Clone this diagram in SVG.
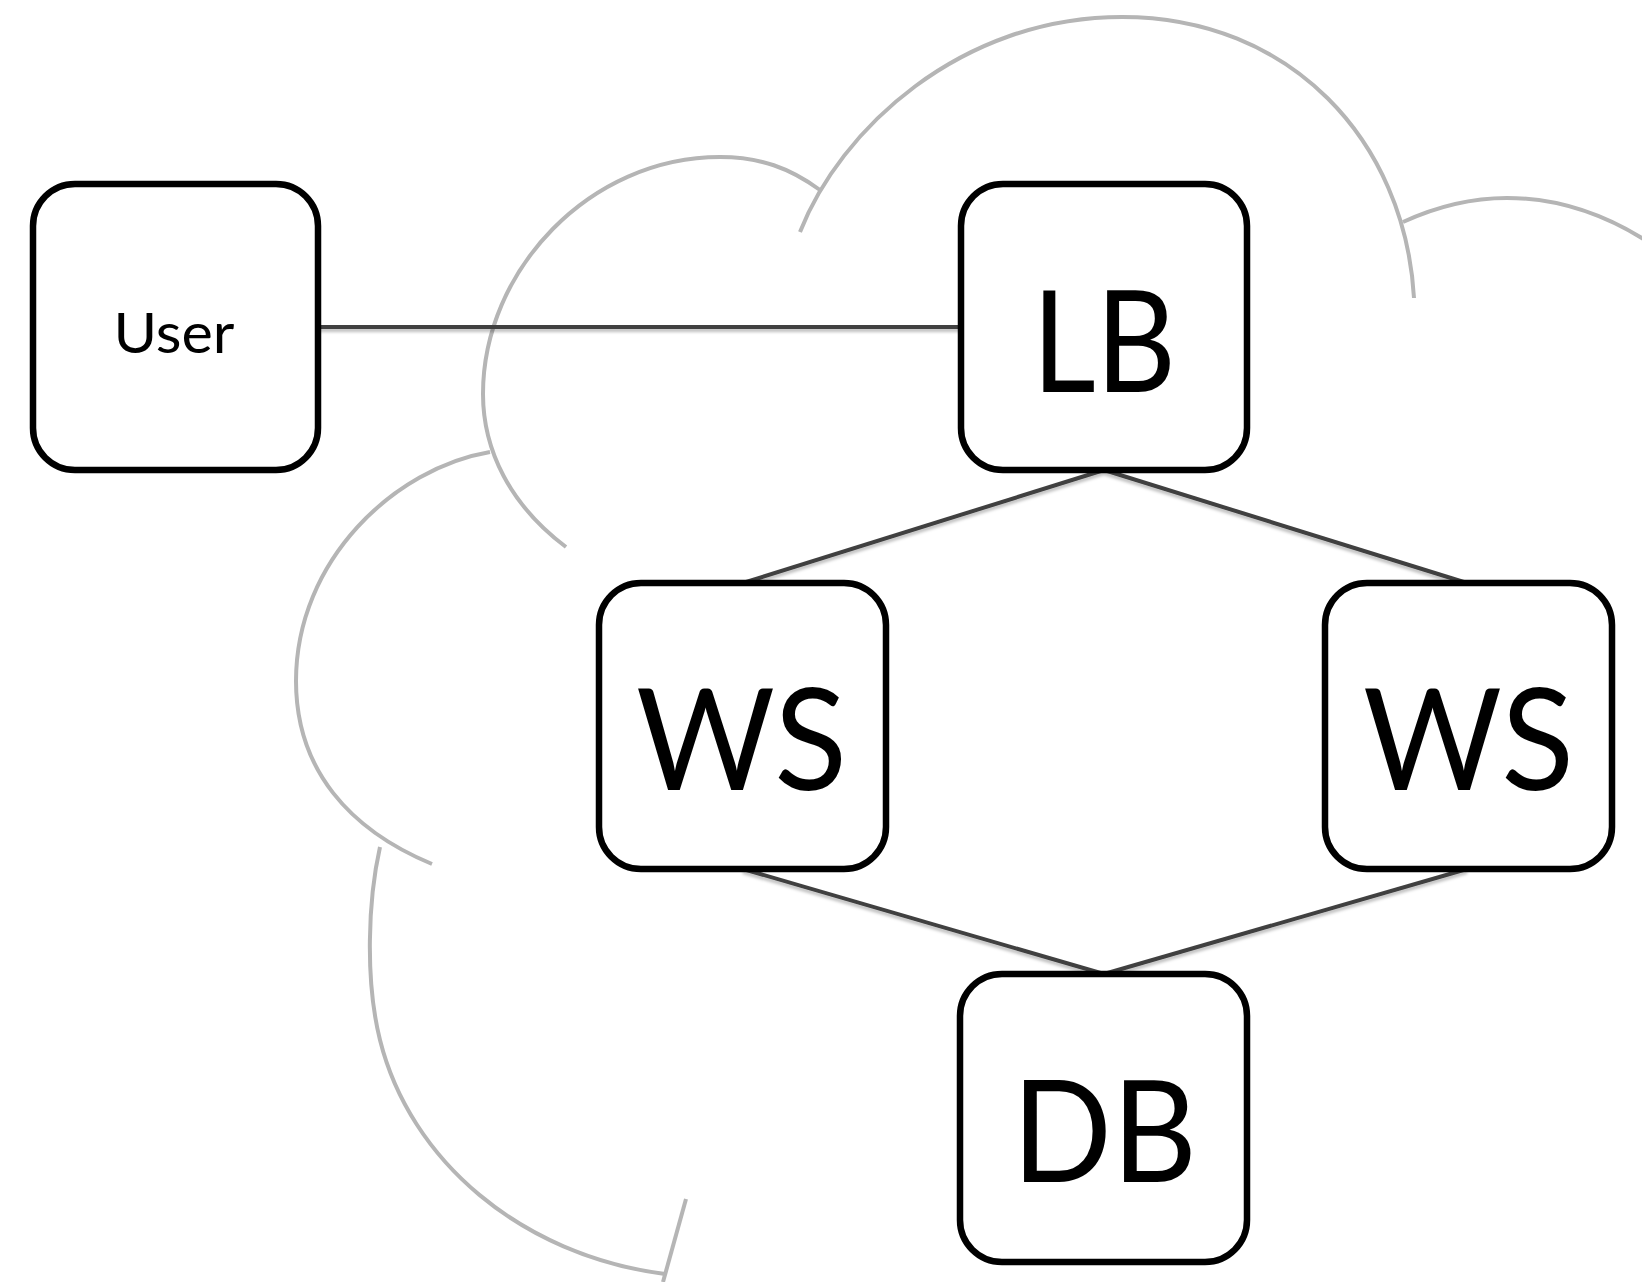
<svg xmlns="http://www.w3.org/2000/svg" width="1642" height="1282" viewBox="0 0 1642 1282">
<defs>
<filter id="sh" x="-5%" y="-5%" width="110%" height="115%">
<feDropShadow dx="0" dy="3" stdDeviation="1.5" flood-color="#000" flood-opacity="0.25"/>
</filter>
</defs>
<style>
.cloud{fill:none;stroke:#b5b5b5;stroke-width:4}
.conn{fill:none;stroke:#404040;stroke-width:4}
.box{fill:#fff;stroke:#000;stroke-width:6.5}
.lbl{font-family:Lato,"Open Sans","Liberation Sans",sans-serif;fill:#000}
.big{font-size:142px}
.small{font-size:57px}
</style>
<rect width="1642" height="1282" fill="#fff"/>
<g id="cloud">
<path class="cloud" d="M800,232 C840,130 960,17 1122,17 C1290,17 1405,140 1414,298"/>
<path class="cloud" d="M1403,222 C1440,205 1475,198 1507,198 C1560,198 1605,215 1645,240"/>
<path class="cloud" d="M820,190 C790,168 760,157 720,157 C590,157 483,270 483,394 C483,450 510,505 566,547"/>
<path class="cloud" d="M490,452 C395,468 296,560 296,681 C296,770 350,830 432,864"/>
<path class="cloud" d="M380,847 C368,900 365,980 380,1040 C410,1160 520,1255 665,1274"/>
<path class="cloud" d="M686,1199 L663,1282"/>
</g>
<g id="connectors" filter="url(#sh)">
<line class="conn" x1="318" y1="327" x2="961" y2="327"/>
<line class="conn" x1="1104" y1="470" x2="743" y2="583"/>
<line class="conn" x1="1104" y1="470" x2="1467" y2="583"/>
<line class="conn" x1="743" y1="869" x2="1104" y2="974"/>
<line class="conn" x1="1467" y1="869" x2="1104" y2="974"/>
</g>
<g id="user">
<rect class="box" x="33" y="184" width="285" height="286" rx="42"/>
<text class="lbl small" x="113.5" y="353" textLength="121" lengthAdjust="spacingAndGlyphs">User</text>
</g>
<g id="lb">
<rect class="box" x="961" y="184" width="286" height="286" rx="42"/>
<text class="lbl big" x="1032" y="392" textLength="144" lengthAdjust="spacingAndGlyphs">LB</text>
</g>
<g id="ws1">
<rect class="box" x="599" y="583" width="287" height="286" rx="42"/>
<text class="lbl big" x="636" y="790" textLength="211" lengthAdjust="spacingAndGlyphs">WS</text>
</g>
<g id="ws2">
<rect class="box" x="1325" y="583" width="287" height="286" rx="42"/>
<text class="lbl big" x="1363" y="790" textLength="211" lengthAdjust="spacingAndGlyphs">WS</text>
</g>
<g id="db">
<rect class="box" x="960" y="974" width="287" height="288" rx="42"/>
<text class="lbl big" x="1012" y="1182" textLength="185" lengthAdjust="spacingAndGlyphs">DB</text>
</g>
</svg>
